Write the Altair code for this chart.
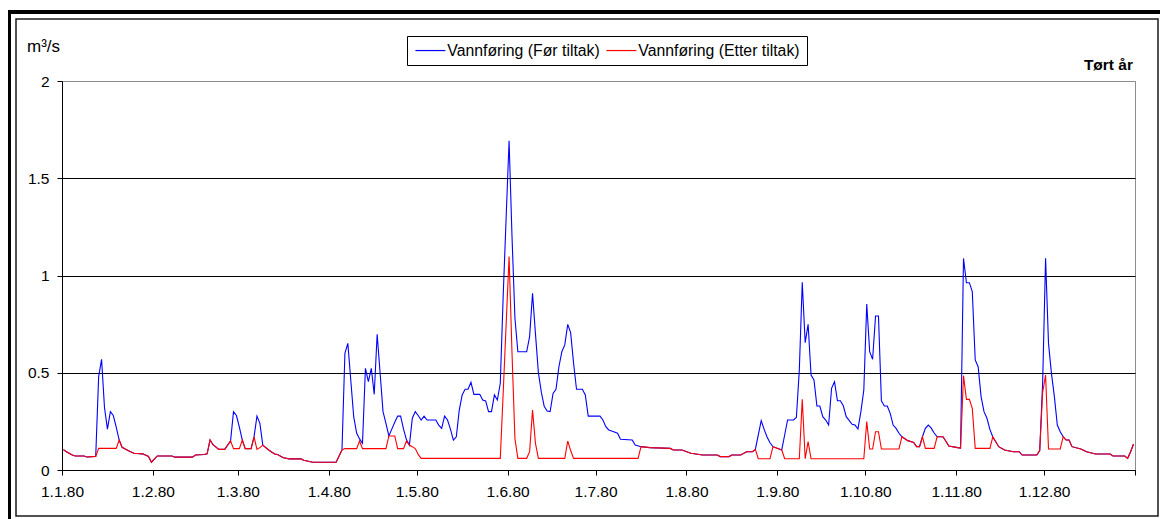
import altair as alt
import pandas as pd

FONT = "Liberation Sans"
SER_BLUE = "Vannføring (Før tiltak)"
SER_RED = "Vannføring (Etter tiltak)"

# (day of year 1980, m3/s)
blue_points = [
    (0, 0.105), (1, 0.094), (3, 0.077), (4, 0.072), (7, 0.072), (8, 0.067), (11, 0.07),
    (12, 0.48), (13, 0.569), (14, 0.32), (15, 0.21), (16, 0.30), (17, 0.28), (18, 0.22),
    (19, 0.154), (20, 0.117), (22, 0.10), (24, 0.086), (27, 0.083), (29, 0.07), (30, 0.04),
    (32, 0.072), (37, 0.072), (38, 0.066), (44, 0.066), (45, 0.077), (48, 0.08), (49, 0.083),
    (50, 0.154), (51, 0.13), (53, 0.106), (55, 0.106), (57, 0.15), (58, 0.30), (59, 0.28),
    (60, 0.22), (61, 0.154), (62, 0.11), (64, 0.11), (65, 0.17), (66, 0.277), (67, 0.24),
    (68, 0.128), (70, 0.103), (72, 0.082), (73, 0.08), (75, 0.063), (77, 0.057), (81, 0.057),
    (82, 0.05), (85, 0.04), (93, 0.04), (95, 0.103), (96, 0.60), (97, 0.651), (98, 0.463),
    (99, 0.274), (100, 0.19), (101, 0.16), (102, 0.137), (103, 0.523), (104, 0.454),
    (105, 0.523), (106, 0.389), (107, 0.698), (108, 0.50), (109, 0.30), (110, 0.24),
    (111, 0.175), (112, 0.21), (113, 0.245), (114, 0.277), (115, 0.277), (116, 0.21),
    (117, 0.155), (118, 0.128), (119, 0.266), (120, 0.30), (121, 0.28), (122, 0.257),
    (123, 0.277), (124, 0.257), (127, 0.257), (128, 0.231), (129, 0.214), (130, 0.277),
    (131, 0.257), (132, 0.21), (133, 0.154), (134, 0.171), (135, 0.308), (136, 0.386),
    (137, 0.415), (138, 0.415), (139, 0.451), (140, 0.389), (142, 0.389), (143, 0.36),
    (144, 0.355), (145, 0.30), (146, 0.30), (147, 0.386), (148, 0.36), (149, 0.446),
    (150, 0.9), (151, 1.3), (152, 1.693), (153, 1.2), (154, 0.78), (155, 0.608), (158, 0.608),
    (159, 0.686), (160, 0.908), (161, 0.70), (162, 0.50), (163, 0.40), (164, 0.326),
    (165, 0.303), (166, 0.30), (167, 0.394), (168, 0.415), (169, 0.531), (170, 0.608),
    (171, 0.643), (172, 0.749), (173, 0.706), (174, 0.549), (175, 0.415), (177, 0.415),
    (178, 0.386), (179, 0.277), (183, 0.277), (184, 0.257), (185, 0.223), (186, 0.206),
    (187, 0.20), (189, 0.189), (190, 0.158), (194, 0.154), (195, 0.128), (197, 0.12),
    (200, 0.115), (207, 0.111), (208, 0.103), (211, 0.103), (214, 0.086), (218, 0.077),
    (223, 0.077), (224, 0.069), (227, 0.069), (228, 0.077), (231, 0.077), (233, 0.094),
    (235, 0.094), (236, 0.106), (238, 0.254), (239, 0.209), (240, 0.17), (241, 0.14),
    (242, 0.12), (245, 0.103), (246, 0.18), (247, 0.257), (249, 0.257), (250, 0.27),
    (251, 0.514), (252, 0.965), (253, 0.655), (254, 0.749), (255, 0.488), (256, 0.463),
    (257, 0.329), (258, 0.329), (259, 0.274), (260, 0.257), (261, 0.231), (262, 0.42),
    (263, 0.454), (264, 0.356), (265, 0.356), (266, 0.33), (267, 0.274), (269, 0.235),
    (270, 0.231), (271, 0.211), (272, 0.30), (273, 0.411), (274, 0.853), (275, 0.608),
    (276, 0.569), (277, 0.792), (278, 0.792), (279, 0.356), (280, 0.329), (281, 0.329),
    (282, 0.291), (283, 0.231), (284, 0.214), (285, 0.189), (286, 0.171), (288, 0.151),
    (290, 0.142), (291, 0.12), (292, 0.12), (293, 0.171), (294, 0.214), (295, 0.231),
    (296, 0.215), (297, 0.19), (298, 0.171), (300, 0.171), (301, 0.148), (302, 0.123),
    (305, 0.115), (306, 0.113), (307, 1.088), (308, 0.963), (309, 0.963), (310, 0.917),
    (311, 0.566), (312, 0.531), (313, 0.377), (314, 0.30), (315, 0.266), (316, 0.209),
    (317, 0.17), (318, 0.145), (319, 0.12), (321, 0.103), (324, 0.094), (326, 0.094),
    (327, 0.077), (332, 0.077), (333, 0.1), (334, 0.45), (335, 1.088), (336, 0.651),
    (337, 0.497), (338, 0.377), (339, 0.231), (340, 0.197), (341, 0.171), (342, 0.154),
    (343, 0.154), (344, 0.12), (347, 0.108), (349, 0.094), (352, 0.082), (357, 0.082),
    (358, 0.072), (362, 0.072), (363, 0.06), (364, 0.094), (365, 0.134),
]

red_points = [
    (0, 0.105), (1, 0.094), (3, 0.077), (4, 0.072), (7, 0.072), (8, 0.067), (11, 0.07),
    (12, 0.111), (18, 0.111), (19, 0.154), (20, 0.117), (22, 0.10), (24, 0.086), (27, 0.083),
    (29, 0.07), (30, 0.04), (32, 0.072), (37, 0.072), (38, 0.066), (44, 0.066), (45, 0.077),
    (48, 0.08), (49, 0.083), (50, 0.154), (51, 0.13), (53, 0.106), (55, 0.106), (57, 0.15),
    (58, 0.11), (60, 0.11), (61, 0.154), (62, 0.11), (64, 0.11), (65, 0.17), (66, 0.106),
    (67, 0.115), (68, 0.128), (70, 0.103), (72, 0.082), (73, 0.08), (75, 0.063), (77, 0.057),
    (81, 0.057), (82, 0.05), (85, 0.04), (93, 0.04), (95, 0.103), (96, 0.11), (100, 0.11),
    (101, 0.149), (102, 0.11), (110, 0.11), (111, 0.175), (113, 0.175), (114, 0.11),
    (116, 0.11), (117, 0.149), (118, 0.128), (119, 0.12), (120, 0.11), (121, 0.08),
    (122, 0.06), (149, 0.06), (150, 0.40), (151, 0.75), (152, 1.097), (153, 0.60),
    (154, 0.16), (155, 0.06), (158, 0.06), (159, 0.094), (160, 0.308), (161, 0.137),
    (162, 0.06), (171, 0.06), (172, 0.149), (173, 0.10), (174, 0.06), (196, 0.06),
    (197, 0.12), (200, 0.115), (207, 0.111), (208, 0.103), (211, 0.103), (214, 0.086),
    (218, 0.077), (223, 0.077), (224, 0.069), (227, 0.069), (228, 0.077), (231, 0.077),
    (233, 0.094), (235, 0.094), (236, 0.106), (237, 0.058), (241, 0.058), (242, 0.12),
    (245, 0.103), (246, 0.058), (251, 0.058), (252, 0.363), (253, 0.058), (254, 0.146),
    (255, 0.058), (273, 0.058), (274, 0.249), (275, 0.108), (276, 0.108), (277, 0.197),
    (278, 0.197), (279, 0.108), (285, 0.108), (286, 0.171), (288, 0.151), (290, 0.142),
    (291, 0.12), (292, 0.12), (293, 0.171), (294, 0.111), (297, 0.111), (298, 0.171),
    (300, 0.171), (301, 0.148), (302, 0.123), (305, 0.115), (306, 0.113), (307, 0.485),
    (308, 0.363), (309, 0.363), (310, 0.317), (311, 0.111), (316, 0.111), (317, 0.17),
    (318, 0.145), (319, 0.12), (321, 0.103), (324, 0.094), (326, 0.094), (327, 0.077),
    (332, 0.077), (333, 0.1), (334, 0.40), (335, 0.488), (336, 0.108), (340, 0.108),
    (341, 0.171), (342, 0.154), (343, 0.154), (344, 0.12), (347, 0.108), (349, 0.094),
    (352, 0.082), (357, 0.082), (358, 0.072), (362, 0.072), (363, 0.06), (364, 0.094),
    (365, 0.134),
]

y_ticks = [0, 0.5, 1, 1.5, 2]
month_ticks = [alt.DateTime(year=1980, month=m, date=1) for m in range(1, 13)] + [
    alt.DateTime(year=1981, month=1, date=1)
]

base = pd.Timestamp("1980-01-01 12:00:00")


def to_frame(points, name):
    return pd.DataFrame(
        {
            "date": [(base + pd.Timedelta(days=d)).strftime("%Y-%m-%dT%H:%M:%S") for d, _ in points],
            "value": [v for _, v in points],
            "series": name,
        }
    )


blue_df = to_frame(blue_points, SER_BLUE)
red_df = to_frame(red_points, SER_RED)

x_enc = alt.X(
    "date:T",
    title=None,
    scale=alt.Scale(
        domain=[alt.DateTime(year=1980, month=1, date=1), alt.DateTime(year=1981, month=1, date=1)],
        nice=False,
    ),
    axis=alt.Axis(
        values=month_ticks,
        labelExpr="year(datum.value) > 1980 ? '' : timeFormat(datum.value, '%-d.%-m.%y')",
        grid=False,
        tickSize=5,
        tickColor="black",
        domainColor="black",
        labelFont=FONT,
        labelFontSize=15.5,
        labelColor="black",
        labelPadding=9,
        labelFlush=False,
        labelOverlap=False,
    ),
)
y_enc = alt.Y(
    "value:Q",
    title=None,
    scale=alt.Scale(domain=[0, 2], nice=False),
    axis=alt.Axis(
        values=y_ticks,
        format="~g",
        grid=True,
        gridColor={"condition": {"test": "datum.value === 2", "value": "#8c8c8c"}, "value": "#000000"},
        gridWidth=1,
        tickSize=5,
        tickColor="black",
        domainColor="black",
        labelFont=FONT,
        labelFontSize=15.5,
        labelColor="black",
        labelPadding=8,
        labelFlush=False,
    ),
)
color_enc = alt.Color(
    "series:N",
    scale=alt.Scale(domain=[SER_BLUE, SER_RED], range=["#0000FF", "#FF0000"]),
    legend=alt.Legend(
        title=None,
        orient="none",
        legendX=345,
        legendY=-45,
        direction="horizontal",
        symbolType="M-3,0H3",
        symbolSize=100,
        symbolStrokeWidth=1.2,
        symbolOffset=9,
        labelOffset=9,
        labelFont=FONT,
        labelFontSize=15.8,
        labelColor="black",
        strokeColor="black",
        fillColor="white",
        padding=6.5,
        columnPadding=3,
        labelLimit=400,
    ),
)

blue_line = alt.Chart(blue_df).mark_line(strokeWidth=1.1).encode(x=x_enc, y=y_enc, color=color_enc)
red_line = alt.Chart(red_df).mark_line(strokeWidth=1.1).encode(x=x_enc, y=y_enc, color=color_enc)

one = alt.Data(values=[{"k": 1}])
frame_top = alt.Chart(one).mark_rect(color="black").encode(
    x=alt.value(-54), x2=alt.value(1098), y=alt.value(-71), y2=alt.value(-67)
)
frame_left = alt.Chart(one).mark_rect(color="black").encode(
    x=alt.value(-54), x2=alt.value(-51), y=alt.value(-71), y2=alt.value(438)
)
frame_inner = alt.Chart(one).mark_rect(fill="transparent", stroke="#1a1a1a", strokeWidth=1.5).encode(
    x=alt.value(-46), x2=alt.value(1096), y=alt.value(-62), y2=alt.value(435)
)

unit_text = alt.Chart(alt.Data(values=[{"t": "m³/s"}])).mark_text(
    align="left", baseline="alphabetic", font=FONT, fontSize=17, color="black"
).encode(x=alt.value(-35), y=alt.value(-29), text="t:N")
year_text = alt.Chart(alt.Data(values=[{"t": "Tørt år"}])).mark_text(
    align="right", baseline="alphabetic", font=FONT, fontSize=15.5, fontWeight="bold", color="black"
).encode(x=alt.value(1071), y=alt.value(-11), text="t:N")

chart = (
    alt.layer(frame_top, frame_left, frame_inner, blue_line, red_line, unit_text, year_text)
    .properties(
        width=1073,
        height=389,
        padding={"left": 54, "top": 73, "right": 25, "bottom": 49},
        autosize=alt.AutoSizeParams(type="none"),
        background="white",
    )
    .configure_view(stroke="#8c8c8c", strokeWidth=1)
)

chart.save("out.html", embed_options={"renderer": "svg", "actions": False})
